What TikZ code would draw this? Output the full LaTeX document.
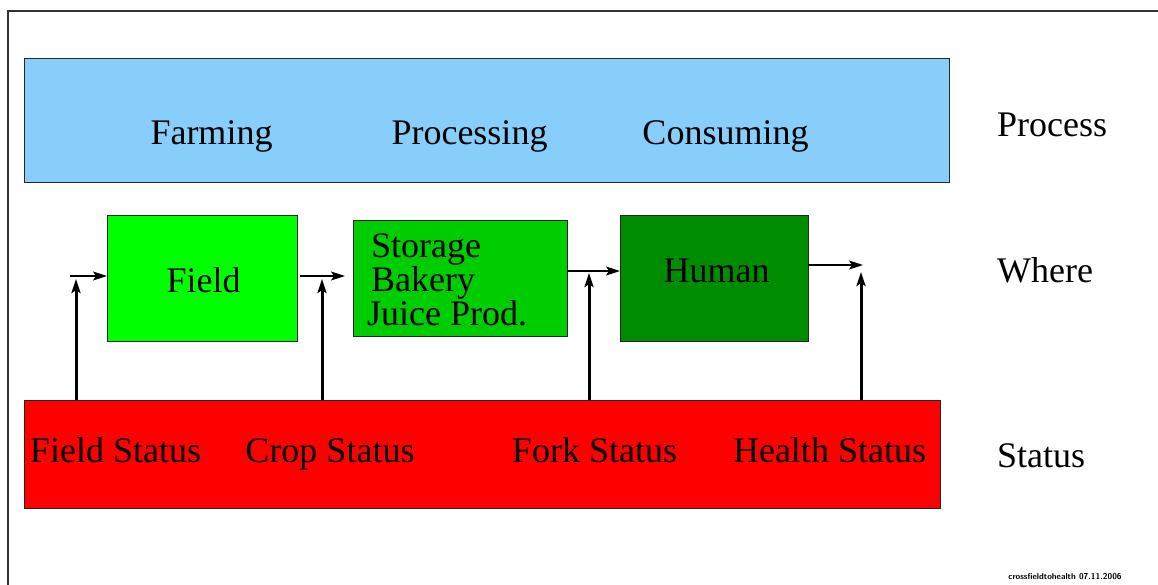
\documentclass[tikz,border=0pt]{standalone}
\usepackage{fontspec}
\setmainfont{Liberation Serif}
\usepackage{tikz}
\usetikzlibrary{arrows.meta}
\usetikzlibrary{positioning}
\usepackage{xcolor}
\definecolor{procblue}{RGB}{135,206,250}
\definecolor{fieldgreen}{RGB}{0,255,0}
\definecolor{storegreen}{RGB}{0,205,0}
\definecolor{humangreen}{RGB}{0,140,0}
\definecolor{statusred}{RGB}{255,0,0}

\begin{document}
\begin{tikzpicture}[x=1pt,y=-1pt,
  box/.style={draw=black!85, line width=1pt, inner sep=0pt, outer sep=0pt},
  lbl/.style={font=\fontsize{36}{32.5}\selectfont, inner sep=0pt, anchor=base},
  flow/.style={-{Stealth[length=14pt,width=9pt,inset=3pt]}, line width=1.3pt},
  feed/.style={-{Stealth[length=14pt,width=9pt,inset=3pt]}, line width=3pt}]
\useasboundingbox (0,0) rectangle (1158,585);
% frame
\draw[line width=2pt, black!80] (1158,11) -- (8,11) -- (8,585);
% boxes
\node[box, fill=procblue, minimum width=925pt, minimum height=124pt] (process) at (486.5,121) {};
\node[box, fill=fieldgreen, minimum width=190pt, minimum height=125pt] (field) at (202,278.5) {};
\node[box, fill=storegreen, minimum width=214pt, minimum height=115pt] (storage) at (460,278.5) {};
\node[box, fill=humangreen, minimum width=188pt, minimum height=125pt] (human) at (714,278.5) {};
\node[box, fill=statusred, minimum width=916pt, minimum height=108pt] (status) at (482,454) {};
% texts
\node[lbl] (farming) at (211.5,145) {Farming};
\node[lbl] (processing) at (469.5,145) {Processing};
\node[lbl] (consuming) at (725.5,145) {Consuming};
\node[lbl] (fieldtxt) at (203.5,292) {Field};
\node[lbl, anchor=base west, align=left] (storetxt) at (367,325) {\hspace*{4pt}Storage\\\hspace*{4pt}Bakery\\Juice Prod.};
\node[lbl] (humantxt) at (716.5,282) {Human};
\node[lbl] (fieldst) at (115.5,462) {Field Status};
\node[lbl] (cropst) at (330,462) {Crop Status};
\node[lbl] (forkst) at (594.5,462) {Fork Status};
\node[lbl] (healthst) at (829.5,462) {Health Status};
\node[lbl, anchor=base west] (procrow) at (997,137) {Process};
\node[lbl, anchor=base west] (whererow) at (997,282) {Where};
\node[lbl, anchor=base west] (statusrow) at (997,467) {Status};
\node[font=\sffamily\bfseries\fontsize{8.5}{8.5}\selectfont, inner sep=0pt] (stamp) at (1065,577) {crossfieldtohealth 07.11.2006};
% junctions
\coordinate (in1) at (70,276);
\coordinate (in2) at (345,276);
\coordinate (in3) at (567,271);
\coordinate (in4) at (863,265);
\coordinate (up1) at (76,279);
\coordinate (up2) at (322,279);
\coordinate (up3) at (589,273);
\coordinate (up4) at (861,272);
% flow arrows
\draw[flow] (in1) -- (in1 -| field.west);
\draw[flow, shorten <=3pt] (in2 -| field.east) -- (in2);
\draw[flow] (in3 -| storage.east) -- (in3 -| human.west);
\draw[flow] (in4 -| human.east) -- (in4);
% status arrows
\draw[feed] (up1 |- status.north) -- (up1);
\draw[feed] (up2 |- status.north) -- (up2);
\draw[feed] (up3 |- status.north) -- (up3);
\draw[feed] (up4 |- status.north) -- (up4);
\end{tikzpicture}
\end{document}
